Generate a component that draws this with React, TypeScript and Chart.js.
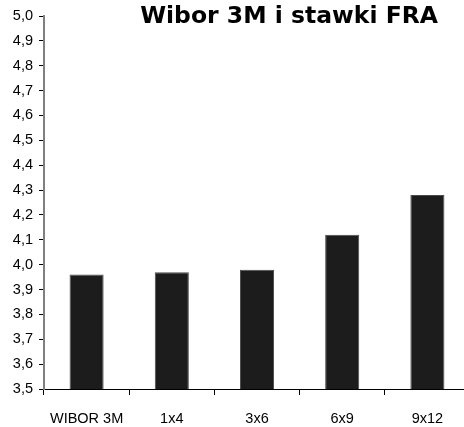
import React, { useEffect, useRef } from "react";
import { Chart, registerables } from "chart.js";

Chart.register(...registerables);

const categories = ["WIBOR 3M", "1x4", "3x6", "6x9", "9x12"];
const values = [3.96, 3.97, 3.98, 4.12, 4.28];
const yMin = 3.5;
const yMax = 5.0;
const yStep = 0.1;
const titleText = "Wibor 3M i stawki FRA";

export default function App() {
  const ref = useRef<HTMLCanvasElement | null>(null);

  useEffect(() => {
    document.body.style.margin = "0";
    const titlePlugin = {
      id: "cornerTitle",
      afterDraw(chart: any) {
        const ctx = chart.ctx;
        ctx.save();
        ctx.font = "bold 23.5px 'DejaVu Sans'";
        ctx.fillStyle = "#000";
        ctx.textAlign = "right";
        ctx.textBaseline = "middle";
        ctx.fillText(titleText, 438, 17);
        ctx.restore();
      },
    };
    const tickFont = { family: "'Liberation Sans'", size: 14.5 };
    const chart = new Chart(ref.current!, {
      type: "bar",
      data: {
        labels: categories,
        datasets: [
          {
            data: values,
            backgroundColor: "#1c1c1c",
            borderColor: "#4a4a4a",
            borderWidth: 1,
            barPercentage: 0.4,
            categoryPercentage: 1.0,
          },
        ],
      },
      options: {
        animation: false,
        responsive: false,
        maintainAspectRatio: false,
        layout: { padding: { top: 16, right: 2, left: 0, bottom: 0 } },
        plugins: {
          legend: { display: false },
          title: { display: false },
          tooltip: { enabled: false },
        },
        scales: {
          x: {
            offset: true,
            grid: {
              offset: true,
              drawOnChartArea: false,
              drawTicks: true,
              tickLength: 6,
              color: "#000",
            },
            border: { color: "#000", width: 1 },
            ticks: {
              color: "#000",
              font: tickFont,
              padding: 15,
              maxRotation: 0,
              autoSkip: false,
            },
            afterFit(scale: any) {
              scale.height = 38;
            },
          },
          y: {
            min: yMin,
            max: yMax,
            grid: {
              drawOnChartArea: false,
              drawTicks: true,
              tickLength: 5,
              color: "#000",
            },
            border: { color: "#808080", width: 2 },
            ticks: {
              stepSize: yStep,
              color: "#000",
              font: tickFont,
              padding: 6,
              callback: (v: any) => Number(v).toFixed(1).replace(".", ","),
            },
            afterFit(scale: any) {
              scale.width = 44;
            },
          },
        },
      },
      plugins: [titlePlugin],
    });
    return () => chart.destroy();
  }, []);

  return (
    <div style={{ position: "absolute", left: 0, top: 0, width: 464, height: 427, overflow: "hidden", background: "#fff" }}>
      <canvas ref={ref} width={472} height={427} style={{ display: "block" }} />
    </div>
  );
}
